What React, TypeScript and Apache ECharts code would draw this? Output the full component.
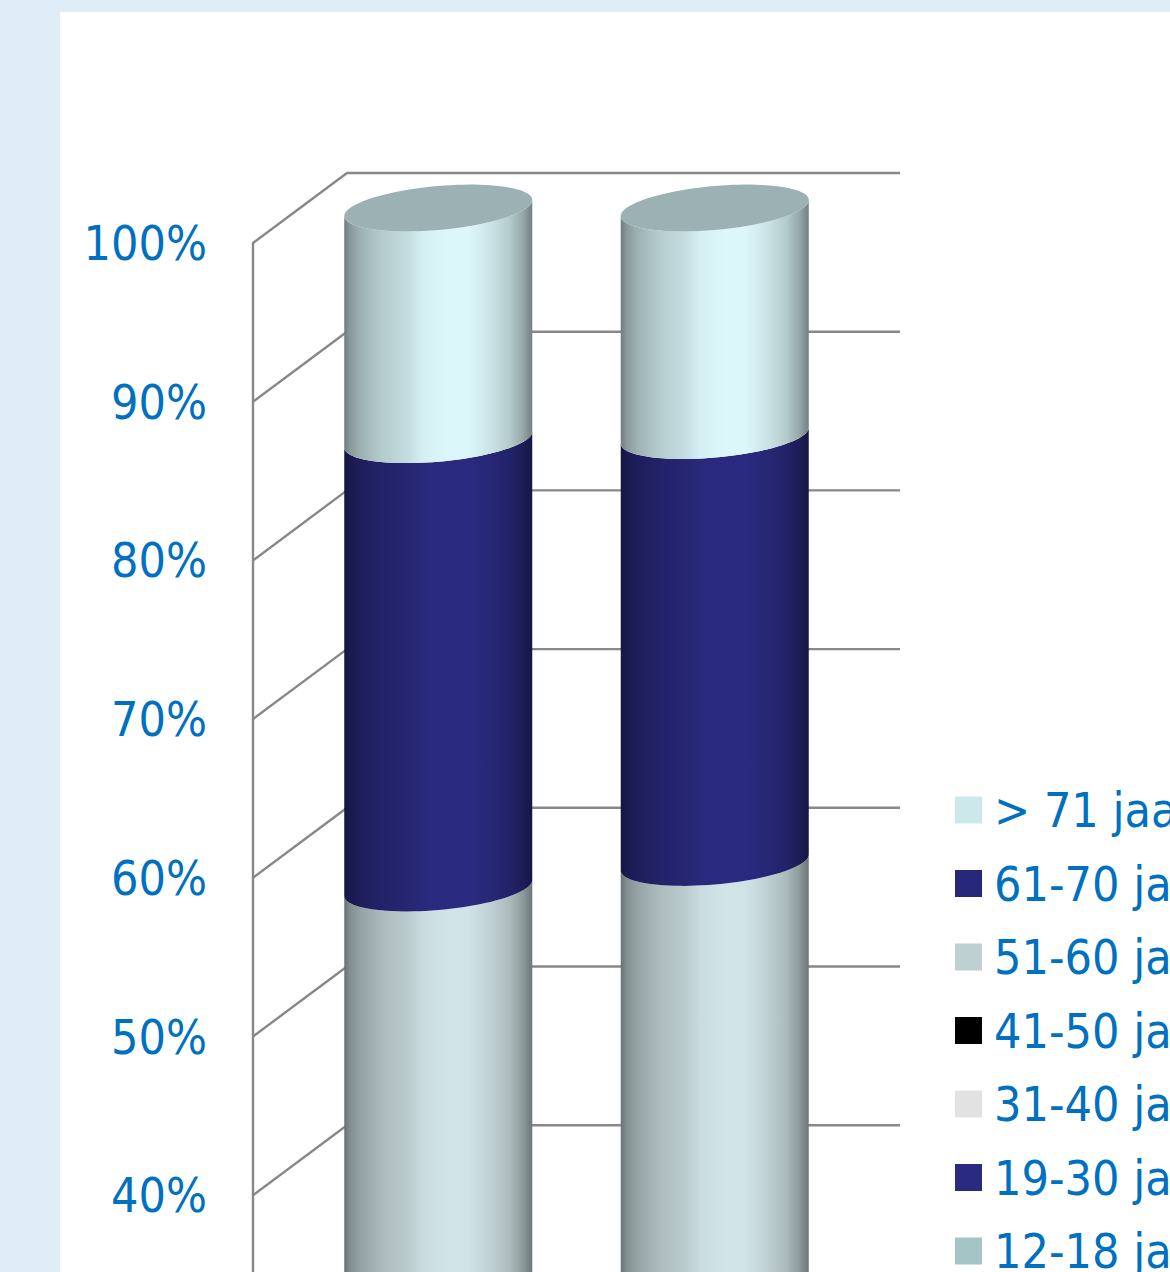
import React, { useEffect, useRef } from "react";
import * as echarts from "echarts";

const categories = ["A", "B"];
const ageGroups = ["> 71 jaar", "61-70 jaar", "51-60 jaar", "41-50 jaar", "31-40 jaar", "19-30 jaar", "12-18 jaar"];
// share per age group, for each of the two columns (top to bottom); the lowest groups are off-picture estimates
const over71 = [14.6, 14.34];
const from61 = [28.25, 26.9];
const from51 = [30.0, 31.0];
const from41 = [8.0, 8.0];
const from31 = [7.0, 7.0];
const from19 = [8.0, 8.6];
const from12 = [4.15, 4.16];
const seriesValues = [over71, from61, from51, from41, from31, from19, from12];
const legendColors = ["#cde8eb", "#28287a", "#bed0d2", "#000000", "#e2e2e2", "#2a2a80", "#a5c4c6"];
const peakColors = ["#dcf7fa", "#2a2a80", "#d0e3e6", "#202020", "#ececec", "#2a2a80", "#b0d0d2"];
const tickValues = [0, 10, 20, 30, 40, 50, 60, 70, 80, 90, 100];
const TOP_COLOR = "#9bb1b3";
const GRID_COLOR = "#888888";
const TEXT_COLOR = "#0070c0";
const FONT = "'DejaVu Sans Condensed', 'DejaVu Sans', sans-serif";

const DEPTH_X = 94;
const DEPTH_Y = -70;
const RADIUS_X = 94;
const RADIUS_Y = 22;
const TILT = 8;

const PROFILE: [number, number][] = [
  [0, 0.5], [0.03, 0.62], [0.09, 0.72], [0.2, 0.82], [0.35, 0.9], [0.42, 0.97], [0.55, 1],
  [0.66, 1], [0.78, 0.92], [0.88, 0.82], [0.95, 0.68], [1, 0.52],
];

function shade(hex: string, k: number) {
  const n = parseInt(hex.slice(1), 16);
  const c = [(n >> 16) & 255, (n >> 8) & 255, n & 255].map((v) => Math.round(v * k));
  return `rgb(${c[0]},${c[1]},${c[2]})`;
}

function gradient(hex: string) {
  return new echarts.graphic.LinearGradient(
    0, 0, 1, 0,
    PROFILE.map(([offset, k]) => ({ offset, color: shade(hex, k) }))
  );
}

function ellipsePoint(cx: number, cy: number, t: number): number[] {
  return [cx + RADIUS_X * Math.cos(t), cy - TILT * Math.cos(t) + RADIUS_Y * Math.sin(t)];
}

function frontArc(cx: number, cy: number, reverse: boolean) {
  const pts: number[][] = [];
  for (let i = 0; i <= 48; i++) pts.push(ellipsePoint(cx, cy, (Math.PI * i) / 48));
  return reverse ? pts.reverse() : pts;
}

function segment(groupIndex: number) {
  return (_p: any, api: any) => {
    const idx = api.value(0);
    const value = api.value(1);
    let above = 0;
    for (let g = 0; g < groupIndex; g++) above += seriesValues[g][idx];
    const top = 100 - above;
    const bottom = top - value;
    const [fx, fyTop] = api.coord([idx, top]);
    const [, fyBottom] = api.coord([idx, bottom]);
    const cx = fx + DEPTH_X / 2;
    const cyTop = fyTop + DEPTH_Y / 2;
    const cyBottom = fyBottom + DEPTH_Y / 2;
    const points = [...frontArc(cx, cyBottom, false), ...frontArc(cx, cyTop, true)];
    const children: any[] = [
      { type: "polygon", shape: { points }, style: { fill: gradient(peakColors[groupIndex]) } },
    ];
    if (groupIndex === 0) {
      const lid: number[][] = [];
      for (let i = 0; i < 96; i++) lid.push(ellipsePoint(cx, cyTop, (2 * Math.PI * i) / 96));
      children.push({ type: "polygon", shape: { points: lid }, style: { fill: TOP_COLOR } });
    }
    return { type: "group", children };
  };
}

function wallLine(_p: any, api: any) {
  const v = api.value(0);
  const band = api.size([1, 0])[0];
  const [first, y] = api.coord([0, v]);
  const x0 = first - band / 2;
  const bx = x0 + DEPTH_X;
  const by = y + DEPTH_Y;
  const wallEnd = bx + band * categories.length;
  return {
    type: "polyline",
    shape: { points: [[x0, y], [bx, by], [wallEnd, by]] },
    style: { stroke: GRID_COLOR, lineWidth: 2.4, fill: "none" },
  };
}

export default function App() {
  const ref = useRef<HTMLDivElement>(null);
  useEffect(() => {
    document.body.style.margin = "0";
    const chart = echarts.init(ref.current!, undefined, { renderer: "svg" });
    chart.setOption({
      animation: false,
      backgroundColor: "#deedf6",
      graphic: [
        { type: "rect", z: -10, silent: true, shape: { x: 60, y: 12, width: 1110, height: 1260 }, style: { fill: "#ffffff" } },
      ],
      grid: { left: 253, top: 243, width: 553, height: 1587, outerBoundsMode: "none", containLabel: false },
      legend: {
        orient: "vertical",
        left: 955,
        top: 786,
        height: 700,
        width: 400,
        padding: 0,
        itemWidth: 27,
        itemHeight: 27,
        itemGap: 25.5,
        icon: "rect",
        align: "left",
        data: ageGroups,
        textStyle: { color: TEXT_COLOR, fontSize: 48, fontFamily: FONT, lineHeight: 48, padding: [0, 0, 0, 7] },
      },
      xAxis: {
        type: "category",
        data: categories,
        axisLine: { show: false },
        axisTick: { show: false },
        axisLabel: { show: false },
      },
      yAxis: {
        type: "value",
        min: 0,
        max: 100,
        interval: 10,
        axisLine: { show: true, lineStyle: { color: GRID_COLOR, width: 2.4 } },
        axisTick: { show: false },
        splitLine: { show: false },
        axisLabel: {
          color: TEXT_COLOR,
          fontSize: 48,
          fontFamily: FONT,
          margin: 46,
          padding: [3, 0, 0, 0],
          formatter: (v: number) => `${v}%`,
        },
      },
      series: [
        {
          type: "custom",
          name: "walls",
          z: 1,
          silent: true,
          clip: false,
          data: tickValues.map((v) => [v]),
          encode: { y: 0 },
          renderItem: wallLine,
        },
        ...ageGroups.map((name, g) => ({
          type: "custom",
          name,
          z: 2 + (ageGroups.length - g),
          clip: false,
          itemStyle: { color: legendColors[g] },
          data: seriesValues[g].map((v, i) => [i, v]),
          encode: { x: 0, y: 1 },
          renderItem: segment(g),
        })),
      ],
    });
    return () => chart.dispose();
  }, []);
  return <div ref={ref} style={{ width: 1170, height: 1272 }} />;
}
